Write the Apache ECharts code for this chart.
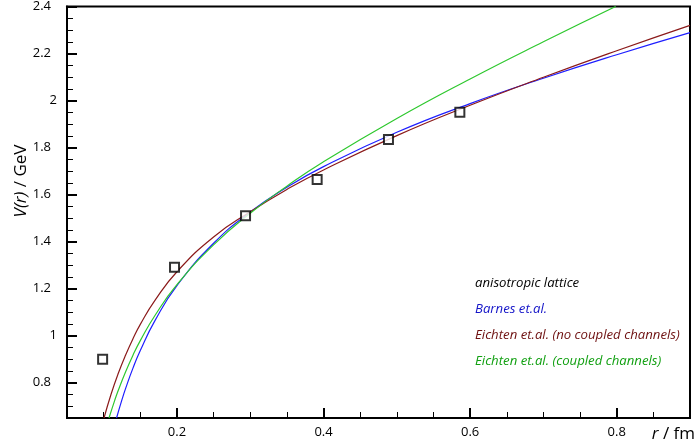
<!DOCTYPE html>
<html>
<head>
<meta charset="utf-8">
<script src="https://cdn.jsdelivr.net/npm/echarts@6/dist/echarts.min.js"></script>
<style>html,body{margin:0;padding:0;background:#fff}#c{width:697px;height:446px}</style>
</head>
<body>
<div id="c"></div>
<script>
// ---- data ----
const lattR = [0.0986, 0.1967, 0.2936, 0.3913, 0.4886, 0.5860];
const lattV = [0.900, 1.291, 1.510, 1.664, 1.834, 1.950];

const barnesR = [0.1176, 0.125, 0.13, 0.14, 0.15, 0.17, 0.2, 0.25, 0.3, 0.35, 0.4, 0.5, 0.6, 0.7, 0.8, 0.9];
const barnesV = [0.65, 0.728, 0.776, 0.862, 0.937, 1.064, 1.213, 1.393, 1.526, 1.631, 1.719, 1.865, 1.987, 2.095, 2.195, 2.289];

const eichNoR = [0.1005, 0.11, 0.12, 0.13, 0.14, 0.15, 0.17, 0.2, 0.25, 0.3, 0.35, 0.4, 0.5, 0.6, 0.7, 0.8, 0.9];
const eichNoV = [0.65, 0.750, 0.840, 0.918, 0.987, 1.048, 1.150, 1.272, 1.420, 1.527, 1.622, 1.705, 1.851, 1.980, 2.099, 2.212, 2.320];

const eichCcR = [0.1073, 0.115, 0.12, 0.13, 0.14, 0.15, 0.17, 0.2, 0.25, 0.3, 0.35, 0.4, 0.5, 0.6, 0.7, 0.7986];
const eichCcV = [0.65, 0.724, 0.768, 0.847, 0.917, 0.979, 1.086, 1.217, 1.386, 1.521, 1.636, 1.740, 1.924, 2.092, 2.250, 2.40];

const xLabels = [0.2, 0.4, 0.6, 0.8];
const xMinor = [0.1, 0.15, 0.25, 0.3, 0.35, 0.45, 0.5, 0.55, 0.65, 0.7, 0.75, 0.85];
const yLabels = [0.8, 1, 1.2, 1.4, 1.6, 1.8, 2, 2.2, 2.4];
const yMinor = [0.7, 0.75, 0.85, 0.9, 0.95, 1.05, 1.1, 1.15, 1.25, 1.3, 1.35, 1.45, 1.5, 1.55,
                1.65, 1.7, 1.75, 1.85, 1.9, 1.95, 2.05, 2.1, 2.15, 2.25, 2.3, 2.35];

const names = ['anisotropic lattice', 'Barnes et.al.', 'Eichten et.al. (no coupled channels)', 'Eichten et.al. (coupled channels)'];

const F = '"Open Sans", sans-serif';
const zip = (a, b) => a.map((v, i) => [v, b[i]]);

const chart = echarts.init(document.getElementById('c'), null, {renderer: 'canvas'});
const xBase = {type: 'value', min: 0.05, max: 0.9, position: 'bottom', splitLine: {show: false}};
const yBase = {type: 'value', min: 0.65, max: 2.4, position: 'left', splitLine: {show: false}};

chart.setOption({
  animation: false,
  backgroundColor: '#fff',
  grid: {left: 67, right: 7, top: 6, bottom: 28, show: true, borderColor: '#000', borderWidth: 2, backgroundColor: 'transparent'},
  xAxis: [
    Object.assign({}, xBase, {
      axisLine: {show: true, onZero: false, lineStyle: {color: '#000', width: 2}},
      axisTick: {show: true, inside: true, length: 10, customValues: xLabels, lineStyle: {color: '#000', width: 2}},
      axisLabel: {show: true, customValues: xLabels, margin: 8, color: '#000', fontSize: 13, fontFamily: F}
    }),
    Object.assign({}, xBase, {
      axisLine: {show: false, onZero: false},
      axisTick: {show: true, inside: true, length: 6, customValues: xMinor, lineStyle: {color: '#000', width: 1}},
      axisLabel: {show: false}
    })
  ],
  yAxis: [
    Object.assign({}, yBase, {
      axisLine: {show: true, onZero: false, lineStyle: {color: '#000', width: 2}},
      axisTick: {show: true, inside: true, length: 10, customValues: yLabels, lineStyle: {color: '#000', width: 2}},
      axisLabel: {
        show: true, customValues: yLabels, margin: 10,
        formatter: v => Number.isInteger(v) ? '{n|' + v + '}' : '{n|' + v + '}{s| }',
        rich: {n: {color: '#000', fontSize: 13, fontFamily: F}, s: {width: 6, fontSize: 13}}
      }
    }),
    Object.assign({}, yBase, {
      axisLine: {show: false, onZero: false},
      axisTick: {show: true, inside: true, length: 6, customValues: yMinor, lineStyle: {color: '#000', width: 1}},
      axisLabel: {show: false}
    })
  ],
  legend: {
    orient: 'vertical', left: 465, top: 271, icon: 'none', itemWidth: 0, itemHeight: 14, itemGap: 12.7,
    selectedMode: false,
    textStyle: {fontStyle: 'italic', fontSize: 13.2, fontFamily: F},
    data: [
      {name: names[0], textStyle: {color: '#000'}},
      {name: names[1], textStyle: {color: '#1414c8'}},
      {name: names[2], textStyle: {color: '#6e1010'}},
      {name: names[3], textStyle: {color: '#12a012'}}
    ]
  },
  graphic: [
    {type: 'text', x: 21, y: 181, rotation: Math.PI / 2,
     style: {text: '{i|V(r)} / GeV', fill: '#000', fontSize: 17, fontFamily: F, align: 'center', verticalAlign: 'middle',
             rich: {i: {fontStyle: 'italic', fontSize: 17, fontFamily: F}}}},
    {type: 'text', x: 695, y: 434,
     style: {text: '{i|r} / fm', fill: '#000', fontSize: 17, fontFamily: F, align: 'right', verticalAlign: 'middle',
             rich: {i: {fontStyle: 'italic', fontSize: 17, fontFamily: F}}}}
  ],
  series: [
    {name: names[1], type: 'line', data: zip(barnesR, barnesV), showSymbol: false, smooth: true,
     lineStyle: {color: '#1e1eff', width: 1.2}, itemStyle: {color: '#1e1eff'}, z: 2},
    {name: names[2], type: 'line', data: zip(eichNoR, eichNoV), showSymbol: false, smooth: true,
     lineStyle: {color: '#8b1a1a', width: 1.2}, itemStyle: {color: '#8b1a1a'}, z: 2},
    {name: names[3], type: 'line', data: zip(eichCcR, eichCcV), showSymbol: false, smooth: true,
     lineStyle: {color: '#2ec82e', width: 1.2}, itemStyle: {color: '#2ec82e'}, z: 2},
    {name: names[0], type: 'scatter', data: zip(lattR, lattV), symbol: 'rect', symbolSize: 9,
     itemStyle: {color: '#fff', borderColor: '#000', borderWidth: 2}, z: 5}
  ]
});
</script>
</body>
</html>
